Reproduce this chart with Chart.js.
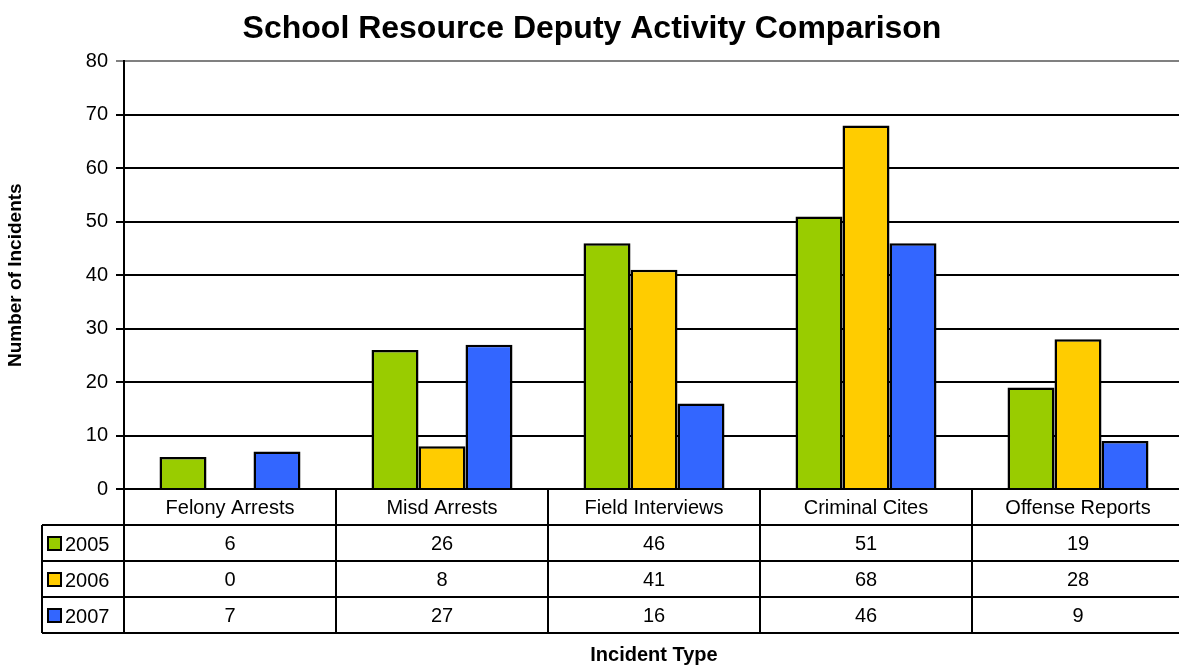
<!DOCTYPE html>
<html>
<head>
<meta charset="utf-8">
<script src="https://cdn.jsdelivr.net/npm/chart.js@4/dist/chart.umd.min.js"></script>
<style>
  html, body { margin: 0; padding: 0; background: #fff; overflow: hidden; }
  #wrap { width: 1190px; height: 667px; }
</style>
</head>
<body>
<div id="wrap"><canvas id="chart"></canvas></div>
<script>
const categories = ['Felony Arrests', 'Misd Arrests', 'Field Interviews', 'Criminal Cites', 'Offense Reports'];
const years = ['2005', '2006', '2007'];
const values2005 = [6, 26, 46, 51, 19];
const values2006 = [0, 8, 41, 68, 28];
const values2007 = [7, 27, 16, 46, 9];
const yTicks = [0, 10, 20, 30, 40, 50, 60, 70, 80];

const colors = ['#99CC00', '#FFCC00', '#3366FF'];
const seriesValues = [values2005, values2006, values2007];
const FONT = "'Liberation Sans', Arial, sans-serif";

// draws the data table under the plot, Excel style
const dataTable = {
    id: 'dataTable',
    afterDraw(chart) {
        const { ctx, chartArea, scales } = chart;
        const x = scales.x;
        const rowH = 36;
        const legendLeft = 42;
        const top = chartArea.bottom;
        const catW = (chartArea.right - chartArea.left) / categories.length;
        const bottom = top + rowH * (years.length + 1);

        ctx.save();
        ctx.strokeStyle = '#000';
        ctx.lineWidth = 2;
        ctx.beginPath();
        // horizontal lines
        for (let r = 1; r <= years.length + 1; r++) {
            const y = top + rowH * r;
            ctx.moveTo(legendLeft, y);
            ctx.lineTo(chartArea.right + 10, y);
        }
        // vertical lines
        for (let c = 0; c <= categories.length; c++) {
            const xx = chartArea.left + catW * c;
            ctx.moveTo(xx, top);
            ctx.lineTo(xx, bottom);
        }
        ctx.moveTo(legendLeft, top + rowH);
        ctx.lineTo(legendLeft, bottom);
        ctx.stroke();

        ctx.fillStyle = '#000';
        ctx.font = '20px ' + FONT;
        ctx.textAlign = 'center';
        ctx.textBaseline = 'middle';
        categories.forEach((cat, i) => {
            const cx = x.getPixelForValue(i);
            ctx.fillText(cat, cx, top + rowH / 2 + 1);
            seriesValues.forEach((vals, s) => {
                ctx.fillText(String(vals[i]), cx, top + rowH * (s + 1.5) + 1);
            });
        });

        // legend keys
        ctx.textAlign = 'left';
        years.forEach((yr, s) => {
            const cy = top + rowH * (s + 1.5);
            ctx.fillStyle = colors[s];
            ctx.fillRect(48, cy - 6, 13, 13);
            ctx.lineWidth = 2;
            ctx.strokeRect(48, cy - 6, 13, 13);
            ctx.fillStyle = '#000';
            ctx.fillText(yr, 65, cy + 2);
        });
        ctx.restore();
    }
};

new Chart(document.getElementById('chart'), {
    type: 'bar',
    data: {
        labels: categories,
        datasets: years.map((yr, s) => ({
            label: yr,
            data: seriesValues[s],
            backgroundColor: colors[s],
            borderColor: '#000',
            borderWidth: 2.5,
            barPercentage: 1,
            categoryPercentage: 0.665,
        })),
    },
    options: {
        responsive: true,
        maintainAspectRatio: false,
        animation: false,
        layout: { padding: { left: 0, right: 6, top: 0, bottom: 0 } },
        plugins: {
            legend: { display: false },
            tooltip: { enabled: false },
            title: {
                display: true,
                text: 'School Resource Deputy Activity Comparison',
                color: '#000',
                font: { family: FONT, size: 32, weight: 'bold', lineHeight: 1.2 },
                padding: { top: 10, bottom: 13 },
            },
        },
        scales: {
            x: {
                ticks: { display: false },
                grid: { display: false },
                border: { display: true, color: '#000', width: 2 },
                title: {
                    display: true,
                    text: 'Incident Type',
                    color: '#000',
                    font: { family: FONT, size: 20, weight: 'bold' },
                    padding: { top: 0, bottom: 0 },
                },
                afterFit(scale) { scale.height = 178; },
            },
            y: {
                min: 0,
                max: 80,
                afterBuildTicks(scale) { scale.ticks = yTicks.map((v) => ({ value: v })); },
                ticks: {
                    color: '#000',
                    font: { family: FONT, size: 20 },
                    padding: 8,
                },
                grid: {
                    color: (c) => (c.tick && c.tick.value === 80 ? '#808080' : '#000'),
                    lineWidth: 2,
                    tickLength: 8,
                },
                border: { display: true, color: '#000', width: 2 },
                title: {
                    display: true,
                    text: 'Number of Incidents',
                    color: '#000',
                    font: { family: FONT, size: 19, weight: 'bold' },
                    padding: { top: 4, bottom: 0 },
                },
                afterFit(scale) { scale.width = 124; },
            },
        },
    },
    plugins: [dataTable],
});
</script>
</body>
</html>
